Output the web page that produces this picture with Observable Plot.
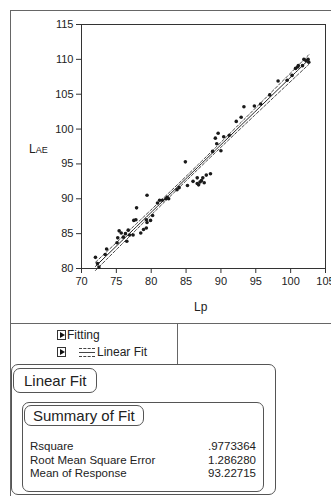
<!DOCTYPE html>
<html><head><meta charset="utf-8">
<script src="https://cdn.jsdelivr.net/npm/d3@7"></script>
<script src="https://cdn.jsdelivr.net/npm/@observablehq/plot@0.6"></script>
<style>
body{margin:0;background:#fff;font-family:"Liberation Sans",Arial,sans-serif;color:#222;}
#wrap{position:relative;width:331px;height:496px;overflow:hidden;}
.abs{position:absolute;}
.ln{position:absolute;background:#666;}
.rbox{position:absolute;border:1px solid #555;border-radius:7px;box-sizing:border-box;}
.tri{position:absolute;width:9px;height:10px;border:1px solid #333;box-sizing:border-box;}
.tri:after{content:"";position:absolute;left:2px;top:1px;border-left:5px solid #111;border-top:3.5px solid transparent;border-bottom:3.5px solid transparent;}
.txt{position:absolute;white-space:nowrap;line-height:1;}
</style></head>
<body><div id="wrap"></div>
<script>
// ---- data ----
const Lp  = [72.0,72.3,72.5,73.4,73.6,75.1,75.2,75.4,75.7,76.0,76.3,76.5,76.7,76.9,77.4,77.5,77.8,77.9,78.5,78.9,79.3,79.4,79.3,79.4,79.9,80.2,80.9,81.2,81.6,82.1,82.3,82.5,83.7,84.0,84.9,85.2,86.0,86.6,86.6,86.8,87.0,87.2,87.4,87.6,87.9,88.5,88.8,89.2,89.4,89.6,90.0,90.4,91.2,92.2,92.9,93.3,94.8,95.7,97.0,98.2,99.5,100.2,100.7,101.0,101.1,101.7,101.9,102.2,102.5,102.6];
const LAE = [81.6,80.7,80.2,82.0,82.8,83.7,84.4,85.4,85.1,84.5,85.0,83.9,85.5,84.8,84.8,86.9,87.0,88.7,85.1,85.6,85.8,90.5,87.0,86.6,86.9,87.6,89.4,89.8,89.8,90.0,90.2,90.0,91.3,91.6,95.3,91.9,92.5,93.0,92.2,92.0,92.4,92.6,93.0,92.3,93.4,93.6,96.8,98.7,97.9,99.4,96.9,98.9,99.1,101.1,101.7,103.2,103.3,103.6,104.9,106.9,107.0,107.7,108.7,108.9,109.1,109.1,110.0,109.8,110.0,109.6];
const xTicks = [70,75,80,85,90,95,100,105];
const yTicks = [80,85,90,95,100,105,110,115];
const statLabels = ["Rsquare","Root Mean Square Error","Mean of Response"];
const statValues = [".9773364","1.286280","93.22715"];

// ---- least-squares fit and 95% confidence curves (from the data) ----
const pts = Lp.map((x,i)=>({Lp:x, LAE:LAE[i]}));
const n = pts.length;
const xm = d3.mean(Lp), ym = d3.mean(LAE);
const Sxx = d3.sum(Lp, x => (x-xm)**2);
const Sxy = d3.sum(pts, d => (d.Lp-xm)*(d.LAE-ym));
const b = Sxy/Sxx, a = ym - b*xm;
const s = Math.sqrt(d3.sum(pts, d => (d.LAE-(a+b*d.Lp))**2)/(n-2));
const tq = 1.995;
const xs = Array.from(new Set(Lp)).sort((p,q)=>p-q);
const fit = xs.map(x => {
  const yh = a+b*x, h = tq*s*Math.sqrt(1/n + (x-xm)**2/Sxx);
  return {Lp:x, fit:yh, lo:yh-h, hi:yh+h};
});

const chart = Plot.plot({
  width: 331, height: 323,
  marginLeft: 81, marginRight: 6, marginTop: 24, marginBottom: 55,
  x: {domain:[70,105]},
  y: {domain:[80,115]},
  style: {fontFamily:'"Liberation Sans",Arial,sans-serif', fontSize:"11px", color:"#222", background:"transparent", overflow:"visible"},
  marks: [
    Plot.frame({stroke:"#333"}),
    Plot.axisX({ticks:xTicks, tickSize:5, tickPadding:4, label:null, fontSize:11, stroke:"#333"}),
    Plot.axisY({ticks:yTicks, tickSize:5, tickPadding:3, label:null, fontSize:11, stroke:"#333"}),
    Plot.line(fit, {x:"Lp", y:"lo", stroke:"#333", strokeWidth:0.9, strokeDasharray:"3,2"}),
    Plot.line(fit, {x:"Lp", y:"hi", stroke:"#333", strokeWidth:0.9, strokeDasharray:"3,2"}),
    Plot.line(fit, {x:"Lp", y:"fit", stroke:"#222", strokeWidth:1}),
    Plot.dot(pts, {x:"Lp", y:"LAE", r:1.8, fill:"#1a1a1a", stroke:"none"})
  ]
});
const wrap = document.getElementById("wrap");
chart.style.position = "absolute"; chart.style.left = "0px"; chart.style.top = "0px";
wrap.appendChild(chart);

function el(cls, css, html){const d=document.createElement("div");d.className=cls;d.style.cssText=css;if(html!=null)d.innerHTML=html;wrap.appendChild(d);return d;}
// outer panel borders
el("ln","left:10px;top:10px;width:321px;height:1px;");
el("ln","left:10px;top:10px;width:1px;height:486px;");
el("ln","left:10px;top:323px;width:321px;height:1px;");
el("ln","left:177px;top:323px;width:1px;height:41px;");
// axis labels
el("txt","left:29px;top:143px;font-size:12px;","L<span style='font-size:9px'>AE</span>");
el("txt","left:194px;top:301px;font-size:12px;","Lp");
// fitting rows
el("tri","left:57px;top:330px;");
el("txt","left:67px;top:329px;font-size:12px;","Fitting");
el("tri","left:57px;top:347px;");
el("abs","left:79px;top:348px;width:16px;height:0;border-top:1px dashed #444;");
el("abs","left:79px;top:352px;width:16px;height:0;border-top:1px solid #444;");
el("abs","left:79px;top:356px;width:16px;height:0;border-top:1px dashed #444;");
el("txt","left:97px;top:346px;font-size:12px;","Linear Fit");
// report boxes
el("rbox","left:11px;top:364px;width:265px;height:131px;");
el("rbox","left:13px;top:368px;width:84px;height:25px;");
el("txt","left:24px;top:373px;font-size:15px;","Linear Fit");
el("rbox","left:22px;top:402px;width:242px;height:90px;");
el("rbox","left:24px;top:405px;width:120px;height:21px;");
el("txt","left:33px;top:408px;font-size:15px;","Summary of Fit");
statLabels.forEach((t,i)=>{
  el("txt",`left:30px;top:${441+i*13.5}px;font-size:11.5px;`, t);
  el("txt",`right:${331-256}px;top:${441+i*13.5}px;font-size:11.5px;text-align:right;`, statValues[i]);
});
</script></body></html>
